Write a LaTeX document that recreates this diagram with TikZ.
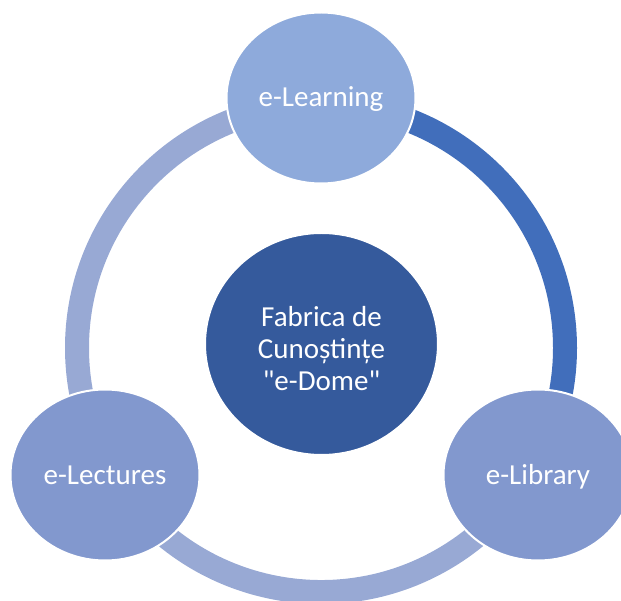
\documentclass[tikz,border=0pt]{standalone}
\usepackage{fontspec}
\setmainfont{Carlito}[Ligatures=TeXOff]
\usetikzlibrary{shapes.geometric}
\definecolor{ringdark}{HTML}{416EBB}
\definecolor{ringlight}{HTML}{98A9D4}
\definecolor{centerblue}{HTML}{355A9C}
\definecolor{toplight}{HTML}{8EAADB}
\definecolor{sidelight}{HTML}{8298CE}
\begin{document}
\begin{tikzpicture}[x=1pt,y=1pt,
  lbl/.style={text=white, font=\fontsize{29}{32}\selectfont},
  sat/.style={ellipse, draw=white, line width=2, minimum width=189, minimum height=171,
    inner sep=0, lbl, text height=18, text depth=0},
  hub/.style={ellipse, draw=white, line width=2, fill=centerblue, minimum width=233,
    minimum height=222, inner sep=0},
  ringarc/.style={line width=24}]
\useasboundingbox (0,0) rectangle (621,600);
\clip (0,0) rectangle (621,600);
\coordinate (rc) at (321,252);
% ring segments
\draw[ringarc, ringlight] (rc) ++(90:244) arc[start angle=90, end angle=210, radius=244];
\draw[ringarc, ringlight] (rc) ++(210:244) arc[start angle=210, end angle=330, radius=244];
\draw[ringarc, ringdark] (rc) ++(90:244) arc[start angle=90, end angle=-30, radius=244];
% nodes
\node[hub] (hub) at (321.5,256) {};
\node[lbl, align=center] (hubtext) at (321.5,251) {Fabrica de\\Cunoștințe\\"e-Dome"};
\node[sat, fill=toplight] (learn) at (321,502) {e-Learning};
\node[sat, fill=sidelight] (lect) at (105,125) {e-Lectures};
\node[sat, fill=sidelight] (lib) at (538,125) {e-Library};
\end{tikzpicture}
\end{document}
